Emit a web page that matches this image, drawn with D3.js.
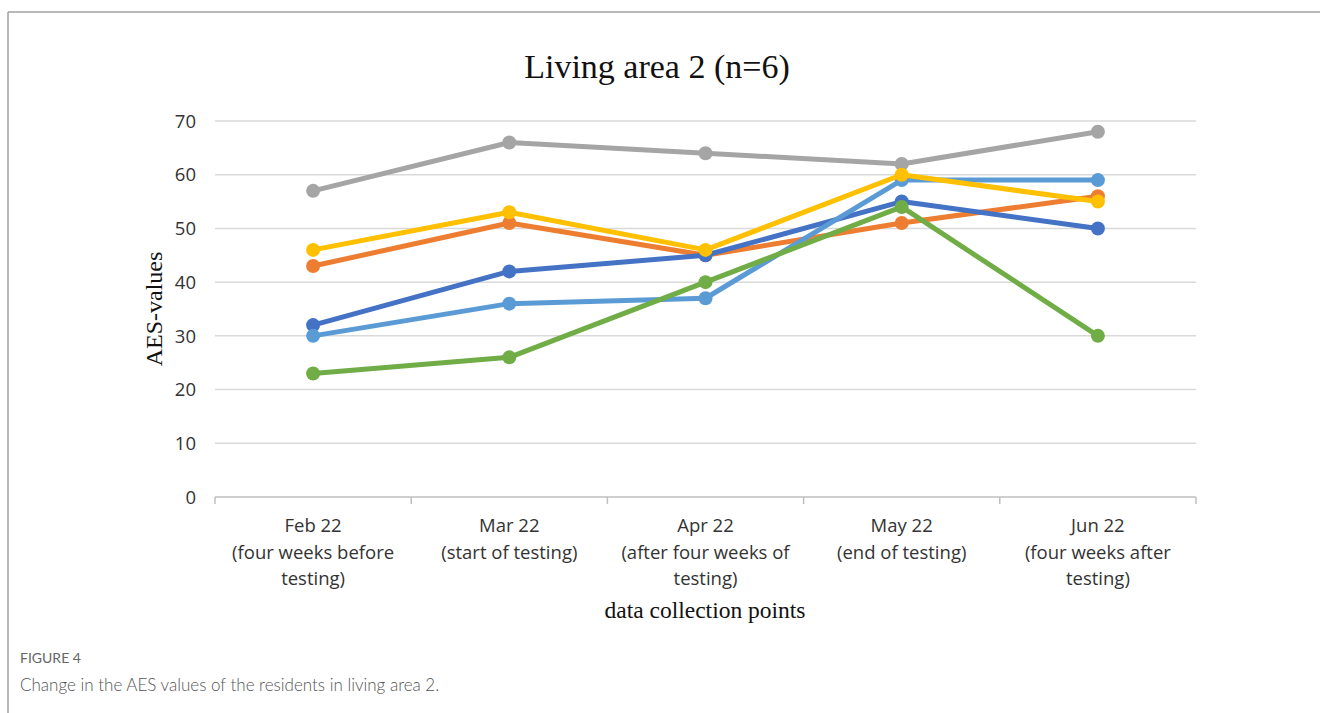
<!DOCTYPE html>
<html>
<head>
<meta charset="utf-8">
<script src="https://cdn.jsdelivr.net/npm/d3@7"></script>
<style>
  body { margin: 0; background: #fff; }
</style>
</head>
<body>
<svg id="chart" width="1320" height="713"></svg>
<script>
const categories = ['Feb 22', 'Mar 22', 'Apr 22', 'May 22', 'Jun 22']
const subLabels = [
  ['(four weeks before', 'testing)'],
  ['(start of testing)'],
  ['(after four weeks of', 'testing)'],
  ['(end of testing)'],
  ['(four weeks after', 'testing)']
]
const yTicks = [0, 10, 20, 30, 40, 50, 60, 70]

const gray = [57, 66, 64, 62, 68]
const orange = [43, 51, 45, 51, 56]
const darkBlue = [32, 42, 45, 55, 50]
const lightBlue = [30, 36, 37, 59, 59]
const yellow = [46, 53, 46, 60, 55]
const green = [23, 26, 40, 54, 30]

const series = [
  { values: gray, color: '#a5a5a5' },
  { values: orange, color: '#ed7d31' },
  { values: darkBlue, color: '#4472c4' },
  { values: lightBlue, color: '#5b9bd5' },
  { values: yellow, color: '#ffc000' },
  { values: green, color: '#70ad47' }
]

const svg = d3.select('#chart')

// frame of the figure
svg.append('line')
   .attr('x1', 8).attr('y1', 12).attr('x2', 1320).attr('y2', 12)
   .style('stroke', '#a0a0a0').style('stroke-width', 1.5)
svg.append('line')
   .attr('x1', 8).attr('y1', 12).attr('x2', 8).attr('y2', 713)
   .style('stroke', '#a0a0a0').style('stroke-width', 1.5)

const plotLeft = 215, plotRight = 1196, plotTop = 121, plotBottom = 497

const xScale = d3.scaleBand()
                 .domain(categories)
                 .range([plotLeft, plotRight])

const yScale = d3.scaleLinear()
                 .domain([0, 70])
                 .range([plotBottom, plotTop])

// gridlines
svg.append('g')
   .selectAll('line')
   .data(yTicks.filter(d => d > 0))
   .join('line')
   .attr('x1', plotLeft)
   .attr('x2', plotRight)
   .attr('y1', d => yScale(d))
   .attr('y2', d => yScale(d))
   .style('stroke', '#d9d9d9')
   .style('stroke-width', 1.5)

// y tick labels
svg.append('g')
   .selectAll('text')
   .data(yTicks)
   .join('text')
   .attr('x', 196)
   .attr('y', d => yScale(d))
   .attr('dy', '0.36em')
   .style('text-anchor', 'end')
   .style('font-family', 'Open Sans')
   .style('font-size', 18.5)
   .style('fill', '#333')
   .text(d => d)

// x axis
let xAxis = svg.append('g')
               .attr('transform', `translate(0,${plotBottom})`)
xAxis.append('line')
     .attr('x1', plotLeft).attr('x2', plotRight)
     .style('stroke', '#bfbfbf').style('stroke-width', 1.5)
const bounds = categories.map(c => xScale(c)).concat([plotRight])
xAxis.selectAll('.tk')
     .data(bounds)
     .join('line')
     .attr('class', 'tk')
     .attr('x1', d => d).attr('x2', d => d)
     .attr('y1', 0).attr('y2', 7)
     .style('stroke', '#bfbfbf').style('stroke-width', 1.5)

let catLabels = svg.append('g')
                   .style('font-family', 'Open Sans')
                   .style('font-size', 18.5)
                   .style('fill', '#333')
                   .style('text-anchor', 'middle')
categories.forEach((c, i) => {
  const cx = xScale(c) + xScale.bandwidth() / 2
  const lines = [c].concat(subLabels[i])
  lines.forEach((l, j) => {
    catLabels.append('text')
             .attr('x', cx)
             .attr('y', 532 + j * 26.5)
             .text(l)
  })
})

// lines and markers
const lineGenerator = d3.line()
                        .x((d, i) => xScale(categories[i]) + xScale.bandwidth() / 2)
                        .y(d => yScale(d))

series.forEach(s => {
  let g = svg.append('g')
  g.append('path')
   .datum(s.values)
   .attr('d', lineGenerator)
   .style('fill', 'none')
   .style('stroke', s.color)
   .style('stroke-width', 5)
   .style('stroke-linejoin', 'round')
  g.selectAll('circle')
   .data(s.values)
   .join('circle')
   .attr('cx', (d, i) => xScale(categories[i]) + xScale.bandwidth() / 2)
   .attr('cy', d => yScale(d))
   .attr('r', 7)
   .style('fill', s.color)
})

// titles
svg.append('text')
   .text('Living area 2 (n=6)')
   .attr('x', 657)
   .attr('y', 78)
   .style('text-anchor', 'middle')
   .style('font-family', 'Liberation Serif')
   .style('font-size', 34)
   .style('fill', '#111')

svg.append('text')
   .text('AES-values')
   .attr('transform', `translate(162, ${309})rotate(-90)`)
   .style('text-anchor', 'middle')
   .style('font-family', 'Liberation Serif')
   .style('font-size', 24)
   .style('fill', '#111')

svg.append('text')
   .text('data collection points')
   .attr('x', 705)
   .attr('y', 618)
   .style('text-anchor', 'middle')
   .style('font-family', 'Liberation Serif')
   .style('font-size', 23.5)
   .style('fill', '#111')

// caption
svg.append('text')
   .text('FIGURE 4')
   .attr('x', 20)
   .attr('y', 663)
   .style('font-family', 'Lato')
   .style('font-size', 14)
   .style('fill', '#666')

svg.append('text')
   .text('Change in the AES values of the residents in living area 2.')
   .attr('x', 20)
   .attr('y', 691)
   .style('font-family', 'Lato')
   .style('font-size', 17)
   .style('font-weight', 300)
   .style('fill', '#555')
</script>
</body>
</html>
